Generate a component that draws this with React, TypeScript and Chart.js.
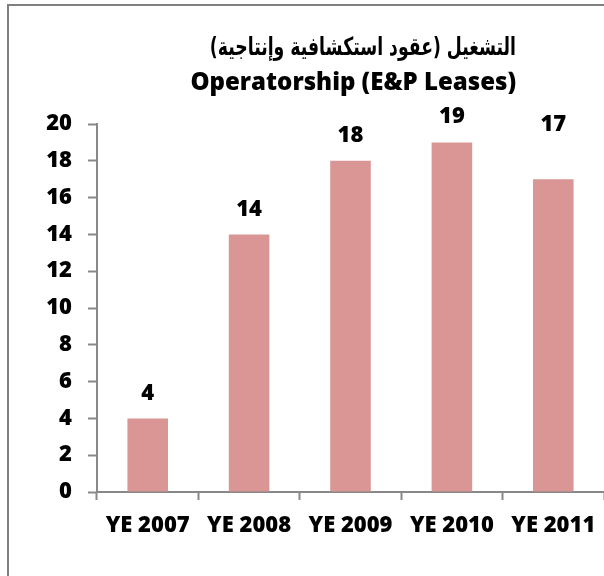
import React, { useEffect, useRef } from "react";
import { Chart, registerables } from "chart.js";

Chart.register(...registerables);

const categories = ["YE 2007", "YE 2008", "YE 2009", "YE 2010", "YE 2011"];
const leases = [4, 14, 18, 19, 17];
const labelLift = [25, 25, 25, 26, 54];
const titleArabic = "التشغيل (عقود استكشافية وإنتاجية)";
const titleEnglish = "Operatorship (E&P Leases)";
const yTicksMax = 20;
const yTicksStep = 2;

const FONT = "'Open Sans', 'DejaVu Sans', sans-serif";

const overlayPlugin = {
  id: "overlay",
  afterDatasetsDraw(chart: any) {
    const ctx = chart.ctx;
    ctx.save();
    ctx.fillStyle = "#000";
    ctx.textBaseline = "middle";
    ctx.textAlign = "right";
    // Arabic title (condensed to match the original face)
    ctx.save();
    ctx.font = `bold 25px 'DejaVu Sans', sans-serif`;
    ctx.direction = "rtl";
    ctx.translate(516, 48);
    ctx.scale(0.69, 1);
    ctx.fillText(titleArabic, 0, 0);
    ctx.restore();
    // English title
    ctx.direction = "ltr";
    ctx.font = `800 24px ${FONT}`;
    ctx.fillText(titleEnglish, 516, 83);
    // value labels
    const meta = chart.getDatasetMeta(0);
    ctx.font = `800 22px ${FONT}`;
    ctx.textAlign = "center";
    meta.data.forEach((bar: any, i: number) => {
      ctx.fillText(String(leases[i]), bar.x, bar.y - labelLift[i]);
    });
    ctx.restore();
  },
};

export default function App() {
  const ref = useRef<HTMLCanvasElement>(null);
  useEffect(() => {
    const chart = new Chart(ref.current!, {
      type: "bar",
      data: {
        labels: categories,
        datasets: [
          {
            data: leases,
            backgroundColor: "#D99694",
            borderWidth: 0,
            categoryPercentage: 1,
            barPercentage: 0.4,
          },
        ],
      },
      options: {
        animation: false,
        responsive: false,
        events: [],
        layout: { autoPadding: false, padding: { left: 0, top: 124, right: 0, bottom: 0 } },
        plugins: { legend: { display: false }, tooltip: { enabled: false } },
        scales: {
          x: {
            afterFit: (s: any) => {
              s.height = 84;
              s.paddingLeft = 0;
              s.paddingRight = 0;
            },
            grid: {
              display: true,
              drawOnChartArea: false,
              drawTicks: true,
              tickLength: 8,
              tickWidth: 2,
              color: "#888888",
              offset: true,
            },
            border: { display: true, color: "#888888", width: 2 },
            ticks: {
              color: "#000",
              padding: 13,
              maxRotation: 0,
              autoSkip: false,
              font: { family: FONT, size: 22, weight: "800" },
            },
          },
          y: {
            min: 0,
            max: yTicksMax,
            afterFit: (s: any) => {
              s.width = 97;
              s.paddingTop = 0;
              s.paddingBottom = 0;
            },
            grid: {
              display: true,
              drawOnChartArea: false,
              drawTicks: true,
              tickLength: 9,
              tickWidth: 2,
              color: "#888888",
            },
            border: { display: true, color: "#888888", width: 2 },
            ticks: {
              stepSize: yTicksStep,
              color: "#000",
              padding: 16,
              font: { family: FONT, size: 22, weight: "800" },
            },
          },
        },
      },
      plugins: [overlayPlugin],
    });
    return () => chart.destroy();
  }, []);

  return (
    <div
      style={{
        position: "absolute",
        left: 0,
        top: 0,
        width: 604,
        height: 576,
        overflow: "hidden",
        background: "#fff",
      }}
    >
      <div
        style={{
          position: "absolute",
          left: 7,
          top: 4,
          width: 700,
          height: 700,
          border: "2px solid #808080",
        }}
      />
      <canvas
        ref={ref}
        width={604}
        height={576}
        style={{ position: "absolute", left: 0, top: 0, width: 604, height: 576 }}
      />
    </div>
  );
}
